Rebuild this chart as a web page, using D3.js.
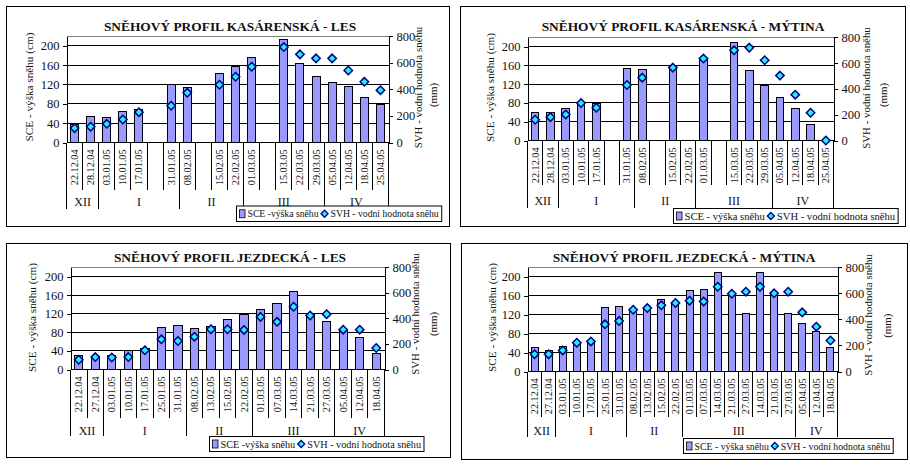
<!DOCTYPE html>
<html><head><meta charset="utf-8">
<script src="https://cdn.jsdelivr.net/npm/d3@7"></script>
<style>
body{margin:0;background:#fff}
svg{display:block}
text{font-family:"Liberation Serif","Times New Roman",serif;fill:#111}
</style>
</head><body><svg id="c" width="910" height="465"></svg>
<script>
// ---------- data ----------
const leftTicks = [0, 40, 80, 120, 160, 200];
const rightTicks = [0, 200, 400, 600, 800];
const monthNames = ["XII", "I", "II", "III", "IV"];

const titles = [
  "SNĚHOVÝ PROFIL KASÁRENSKÁ - LES",
  "SNĚHOVÝ PROFIL KASÁRENSKÁ - MÝTINA",
  "SNĚHOVÝ PROFIL JEZDECKÁ - LES",
  "SNĚHOVÝ PROFIL JEZDECKÁ - MÝTINA"
];
const legendSCE = ["SCE -výška sněhu", "SCE - výška sněhu", "SCE -výška sněhu", "SCE - výška sněhu"];
const legendSVH = "SVH - vodní hodnota sněhu";
const leftAxisTitle = "SCE - výška sněhu (cm)";
const rightAxisTitle = ["SVH - vodní hodnota sněhu", "(mm)"];

const kasDates = ["22.12.04","28.12.04","03.01.05","10.01.05","17.01.05","","31.01.05","08.02.05","","15.02.05","22.02.05","01.03.05","","15.03.05","22.03.05","29.03.05","05.04.05","12.04.05","18.04.05","25.04.05"];
const kasLesSCE = [37,54,52,64,68,null,120,113,null,142,157,175,null,212,163,136,124,115,93,78];
const kasLesSVH = [108,118,140,173,228,null,276,373,null,434,494,569,null,717,662,632,632,541,456,393];
const kasLesMonths = [2,5,4,5,4];

const kasMytSCE = [60,60,68,80,79,null,153,151,null,157,null,172,null,208,149,117,91,68,34,0];
const kasMytSVH = [161,181,202,290,254,null,430,487,null,565,null,635,null,699,720,622,503,355,215,0];
const kasMytMonths = [2,5,4,5,4];

const jezLesDates = ["22.12.04","27.12.04","03.01.05","10.01.05","17.01.05","25.01.05","31.01.05","08.02.05","13.02.05","15.02.05","22.02.05","01.03.05","07.03.05","14.03.05","21.03.05","27.03.05","05.04.05","12.04.05","18.04.05"];
const jezLesSCE = [30,28,30,40,46,91,95,89,92,108,118,130,143,167,118,104,87,69,34];
const jezLesSVH = [76,97,94,97,150,236,223,257,315,315,310,412,373,491,423,433,312,312,168];
const jezLesMonths = [2,5,4,5,3];

const jezMytDates = ["22.12.04","27.12.04","03.01.05","10.01.05","17.01.05","25.01.05","31.01.05","08.02.05","13.02.05","15.02.05","22.02.05","01.03.05","07.03.05","14.03.05","21.03.05","27.03.05","14.03.05","21.03.05","27.03.05","05.04.05","12.04.05","18.04.05"];
const jezMytSCE = [51,45,53,58,62,136,138,131,135,153,145,170,174,208,165,123,208,163,123,102,84,50];
const jezMytSVH = [133,133,162,221,231,362,387,474,487,508,526,544,538,651,597,613,651,600,613,454,344,238];
const jezMytMonths = [2,5,4,8,3];

// ---------- layout ----------
const layouts = [
  {box:[6.5,6.5,449.5,226.5], titleX:230, titleY:30.5, x0:66.5, x1:388.5, top:36, bottom:142.5,
   dateB:190, monthB:209, monthY:201.7, lt:[29.3,87], rt:[[418.3,87.5],[433.3,95]],
   leg:{x:236.5,y:206,h:15.5,fs:9.7}},
  {box:[460.5,6.5,905.5,226.5], titleX:683, titleY:30.5, x0:527.5, x1:833.5, top:37.3, bottom:140.5,
   dateB:185, monthB:208.3, monthY:201.3, lt:[490,87.5], rt:[[865.5,88],[882.5,95]],
   leg:{x:673.5,y:208.5,h:15,fs:10.6}},
  {box:[6.5,243.5,450.5,457.5], titleX:230, titleY:261.5, x0:70.5, x1:384.5, top:267.3, bottom:369.5,
   dateB:418.3, monthB:435.7, monthY:431.3, lt:[31.7,317.5], rt:[[415,314],[433,324]],
   leg:{x:209.5,y:436.5,h:15,fs:10.2}},
  {box:[461.5,243.5,907.5,459.5], titleX:684, titleY:261.5, x0:527.5, x1:837.5, top:267.3, bottom:371.5,
   dateB:416.7, monthB:436.7, monthY:431.3, lt:[491.7,317.5], rt:[[868.3,315],[886.7,325.7]],
   leg:{x:683.5,y:438.5,h:15,fs:9.8}}
];

const BAR_FILL = "#9999FF", MARK_FILL = "#1FF0FF", MARK_STROKE = "#000080";
const diamond = r => `M0,${-r}L${r},0L0,${r}L${-r},0Z`;

function drawPanel(svg, L, title, dates, sce, svh, months, legText){
  const g = svg.append("g");
  g.append("rect").attr("x",L.box[0]).attr("y",L.box[1])
    .attr("width",L.box[2]-L.box[0]).attr("height",L.box[3]-L.box[1])
    .attr("fill","#fff").attr("stroke","#000").attr("stroke-width",1);
  g.append("text").attr("x",L.titleX).attr("y",L.titleY).attr("text-anchor","middle")
    .attr("font-weight","bold").attr("font-size",13.4).attr("fill","#000").text(title);

  const n = dates.length, idx = d3.range(n);
  const x = d3.scaleBand().domain(idx).range([L.x0,L.x1]).paddingInner(0.5).paddingOuter(0.25);
  const bw = x.bandwidth(), st = x.step();
  const bnd = k => k < n ? x(k) - st*0.25 : x.range()[1];
  const yL = d3.scaleLinear().domain([0,220]).range([L.bottom,L.top]);
  const yR = d3.scaleLinear().domain([0,800]).range([L.bottom,L.top]);

  g.append("line").attr("x1",L.x0).attr("x2",L.x1).attr("y1",L.top).attr("y2",L.top)
    .attr("stroke","#808080").attr("shape-rendering","crispEdges");
  g.selectAll(null).data(leftTicks).join("line")
    .attr("x1",L.x0).attr("x2",L.x1).attr("y1",d=>yL(d)).attr("y2",d=>yL(d))
    .attr("stroke","#000").attr("shape-rendering","crispEdges");

  g.selectAll(null).data(idx.filter(i=>sce[i]!=null && sce[i]>0)).join("rect")
    .attr("x",i=>x(i)).attr("width",bw).attr("y",i=>yL(sce[i])).attr("height",i=>yL(0)-yL(sce[i]))
    .attr("fill",BAR_FILL).attr("stroke","#000").attr("stroke-width",1).attr("shape-rendering","crispEdges");

  const la = g.append("g").attr("transform",`translate(${L.x0},0)`)
    .call(d3.axisLeft(yL).tickValues(leftTicks).tickSizeInner(4).tickSizeOuter(0).tickPadding(3));
  const ra = g.append("g").attr("transform",`translate(${L.x1},0)`)
    .call(d3.axisRight(yR).tickValues(rightTicks).tickSizeInner(4).tickSizeOuter(0).tickPadding(4));
  [la,ra].forEach(a=>{
    a.attr("font-family",null).attr("font-size",null);
    a.selectAll("path,line").attr("stroke","#000").attr("shape-rendering","crispEdges");
    a.selectAll("text").attr("font-size",12.5).attr("fill","#111");
  });

  g.selectAll(null).data(d3.range(n+1)).join("line")
    .attr("x1",bnd).attr("x2",bnd).attr("y1",L.bottom).attr("y2",L.dateB)
    .attr("stroke","#000").attr("shape-rendering","crispEdges");
  const cum = [0, ...d3.cumsum(months)];
  g.selectAll(null).data(cum).join("line")
    .attr("x1",k=>bnd(k)).attr("x2",k=>bnd(k)).attr("y1",L.bottom).attr("y2",L.monthB)
    .attr("stroke","#000").attr("shape-rendering","crispEdges");
  g.selectAll(null).data(months).join("text")
    .attr("x",(m,j)=>(bnd(cum[j])+bnd(cum[j+1]))/2).attr("y",L.monthY)
    .attr("text-anchor","middle").attr("dominant-baseline","central").attr("font-size",12)
    .text((m,j)=>monthNames[j]);
  g.selectAll(null).data(idx).join("text")
    .attr("transform",i=>`translate(${x(i)+bw/2},${L.bottom+7}) rotate(-90)`)
    .attr("text-anchor","end").attr("dominant-baseline","central").attr("font-size",10.2)
    .attr("fill","#222").text(i=>dates[i]);

  g.selectAll(null).data(idx.filter(i=>svh[i]!=null)).join("path")
    .attr("d",diamond(4.2))
    .attr("transform",i=>`translate(${x(i)+bw/2},${yR(svh[i])})`)
    .attr("fill",MARK_FILL).attr("stroke",MARK_STROKE).attr("stroke-width",1.5);

  g.append("text").attr("transform",`translate(${L.lt[0]},${L.lt[1]}) rotate(-90)`)
    .attr("text-anchor","middle").attr("dominant-baseline","central").attr("font-size",11.2)
    .attr("fill","#222").text(leftAxisTitle);
  rightAxisTitle.forEach((t,k)=>{
    g.append("text").attr("transform",`translate(${L.rt[k][0]},${L.rt[k][1]}) rotate(-90)`)
      .attr("text-anchor","middle").attr("dominant-baseline","central").attr("font-size",10.9)
      .attr("fill","#222").text(t);
  });

  // legend (sequential layout)
  const lg = L.leg, cy = lg.y + lg.h/2;
  const box = g.append("rect").attr("x",lg.x).attr("y",lg.y).attr("height",lg.h)
    .attr("fill","#fff").attr("stroke","#000");
  let cx = lg.x + 3;
  g.append("rect").attr("x",cx).attr("y",cy-4).attr("width",5.5).attr("height",8)
    .attr("fill",BAR_FILL).attr("stroke","#000").attr("stroke-width",0.8);
  cx += 8;
  const t1 = g.append("text").attr("x",cx).attr("y",cy).attr("dominant-baseline","central")
    .attr("font-size",lg.fs).text(legText);
  cx += t1.node().getComputedTextLength() + 6;
  g.append("path").attr("d",diamond(3.5)).attr("transform",`translate(${cx},${cy})`)
    .attr("fill",MARK_FILL).attr("stroke",MARK_STROKE).attr("stroke-width",1.3);
  cx += 6;
  const t2 = g.append("text").attr("x",cx).attr("y",cy).attr("dominant-baseline","central")
    .attr("font-size",lg.fs).text(legendSVH);
  cx += t2.node().getComputedTextLength() + 3;
  box.attr("width", cx - lg.x);
}

const svg = d3.select("#c");
drawPanel(svg, layouts[0], titles[0], kasDates, kasLesSCE, kasLesSVH, kasLesMonths, legendSCE[0]);
drawPanel(svg, layouts[1], titles[1], kasDates, kasMytSCE, kasMytSVH, kasMytMonths, legendSCE[1]);
drawPanel(svg, layouts[2], titles[2], jezLesDates, jezLesSCE, jezLesSVH, jezLesMonths, legendSCE[2]);
drawPanel(svg, layouts[3], titles[3], jezMytDates, jezMytSCE, jezMytSVH, jezMytMonths, legendSCE[3]);
</script>
</body></html>
